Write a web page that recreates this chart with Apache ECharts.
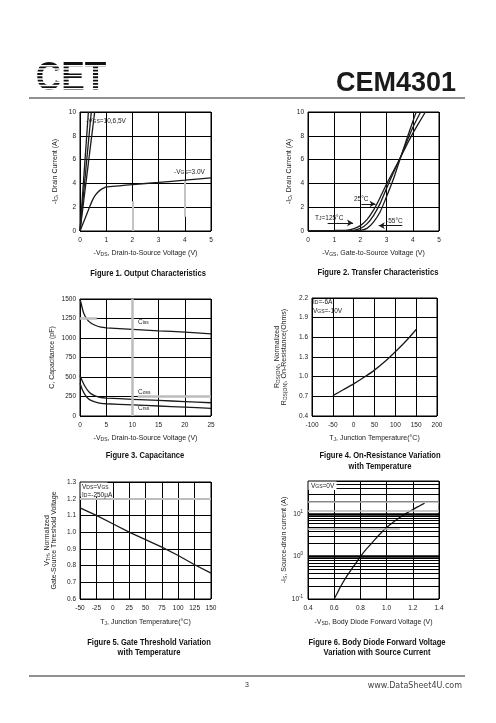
<!DOCTYPE html>
<html><head><meta charset="utf-8">
<script src="https://cdn.jsdelivr.net/npm/echarts@6/dist/echarts.min.js"></script>
<style>html,body{margin:0;padding:0;background:#fff}#c{width:496px;height:723px}</style>
</head><body><div id="c"></div><script>
// ---------------- DATA ----------------
// Figure 1: Output characteristics  [-VDS (V), -ID (A)]
const fig1Vgs10 = [[0,0],[0.32,10]];
const fig1Vgs6  = [[0,0],[0.43,10]];
const fig1Vgs5  = [[0,0],[0.56,10]];
const fig1Vgs3  = [[0,0],[0.1,0.55],[0.2,1.1],[0.3,1.65],[0.4,2.2],[0.5,2.7],[0.6,3.05],[0.7,3.3],[0.8,3.48],[0.9,3.6],[1,3.7],[1.5,3.8],[2,3.9],[3,4.08],[4,4.27],[5,4.47]];
const fig1XTicks = [0,1,2,3,4,5];
const fig1YTicks = [0,2,4,6,8,10];
// Figure 2: Transfer characteristics [-VGS (V), -ID (A)]
const fig2T125 = [[0,0.03],[1,0.04],[1.5,0.08],[1.75,0.2],[2,0.45],[2.25,0.95],[2.5,1.75],[2.75,2.8],[3,3.95],[3.25,5.0],[3.5,6.05],[3.75,7.15],[4,8.2],[4.25,9.15],[4.48,10]];
const fig2T25  = [[0,0.02],[1.5,0.02],[1.75,0.06],[2,0.22],[2.25,0.6],[2.5,1.3],[2.75,2.3],[3,3.6],[3.25,4.85],[3.5,6.05],[3.75,7.4],[4,8.7],[4.3,10]];
const fig2Tm55 = [[0,0.02],[1.75,0.02],[2,0.05],[2.25,0.22],[2.5,0.75],[2.75,1.6],[3,2.9],[3.25,4.3],[3.5,5.95],[3.75,7.6],[4,9.2],[4.13,10]];
const fig2XTicks = [0,1,2,3,4,5];
const fig2YTicks = [0,2,4,6,8,10];
// Figure 3: Capacitance [-VDS (V), C (pF)]
const fig3Ciss = [[0,1500],[0.3,1420],[0.6,1340],[1,1275],[1.5,1225],[2,1195],[3,1160],[4,1138],[5,1130],[10,1110],[15,1092],[20,1075],[25,1052]];
const fig3Coss = [[0,520],[0.5,440],[1,375],[1.5,325],[2,290],[3,255],[4,237],[5,230],[10,214],[15,200],[20,185],[25,170]];
const fig3Crss = [[0,420],[0.5,330],[1,268],[1.5,228],[2,203],[3,178],[4,163],[5,157],[10,143],[15,128],[20,113],[25,98]];
const fig3XTicks = [0,5,10,15,20,25];
const fig3YTicks = [0,250,500,750,1000,1250,1500];
// Figure 4: On-resistance vs temperature [TJ (°C), normalized RDS(ON)]
const fig4Rds = [[-50,0.71],[-25,0.8],[0,0.89],[25,0.99],[50,1.1],[75,1.23],[100,1.38],[125,1.54],[150,1.72]];
const fig4XTicks = [-100,-50,0,50,100,150,200];
const fig4YTicks = [0.4,0.7,1.0,1.3,1.6,1.9,2.2];
// Figure 5: Gate threshold vs temperature [TJ (°C), normalized VTH]
const fig5Vth = [[-50,1.145],[-25,1.1],[0,1.05],[25,1.0],[50,0.955],[75,0.91],[100,0.86],[125,0.805],[150,0.755]];
const fig5XTicks = [-50,-25,0,25,50,75,100,125,150];
const fig5YTicks = [0.6,0.7,0.8,0.9,1.0,1.1,1.2,1.3];
// Figure 6: Body diode forward voltage [-VSD (V), -IS (A)]
const fig6Is = [[0.6,0.1],[0.625,0.14],[0.65,0.2],[0.7,0.36],[0.75,0.6],[0.8,1.0],[0.85,1.55],[0.9,2.3],[0.95,3.4],[1.0,4.8],[1.05,6.4],[1.1,8.3],[1.15,10.4],[1.2,12.8],[1.25,15.5],[1.29,18]];
const fig6XTicks = [0.4,0.6,0.8,1.0,1.2,1.4];
const fig6YRange = [0.1,60];
const fig6YTicks = [0.1,1,10];

// ---------------- CHART ----------------
const FF = "'Liberation Sans', Arial, Helvetica, sans-serif";
const INK = '#1a1a1a';
const sub = {s:{fontSize:5,verticalAlign:'bottom',fontFamily:FF,color:'#222'}};
const grids = [
  {left:80,  top:112, width:131, height:119},
  {left:308, top:112, width:131, height:119},
  {left:80,  top:299, width:131, height:117},
  {left:312, top:298, width:125, height:118},
  {left:80,  top:482, width:131, height:117},
  {left:308, top:481, width:131, height:118}
].map(g=>Object.assign({show:true,borderColor:'#000',borderWidth:1,backgroundColor:'transparent',containLabel:false},g));

function step(t){return t[1]-t[0];}
function xAx(i,ticks,name,gap,fmt){
  return {type:'value',gridIndex:i,min:ticks[0],max:ticks[ticks.length-1],interval:step(ticks),
    axisLine:{show:false},axisTick:{show:false},
    axisLabel:{fontSize:6.5,color:'#222',margin:6,fontFamily:FF,formatter:fmt},
    splitLine:{show:true,lineStyle:{color:'#000',width:1}},
    name:name,nameLocation:'middle',nameGap:gap,
    nameTextStyle:{fontSize:7,color:'#222',fontFamily:FF,rich:sub}};
}
function yAx(i,ticks,name,gap,fmt){
  const a = xAx(i,ticks,name,gap,fmt);
  a.axisLabel.margin = 4;
  return a;
}
const f1 = v=>String(v);
const f1d = v=>v.toFixed(1);

const y4 = yAx(3,fig4YTicks,'R{s|DS(ON)}, Normalized\nR{s|DS(ON)}, On-Resistance(Ohms)',24,
   v=>{const k=(v-fig4YTicks[0])/step(fig4YTicks); return Math.abs(k-Math.round(k))<1e-6? v.toFixed(1):'';});
y4.interval = 0.1;
y4.splitLine.lineStyle.color = ['#000','rgba(0,0,0,0)','rgba(0,0,0,0)'];

const y6 = {type:'log',logBase:10,gridIndex:5,min:fig6YRange[0],max:fig6YRange[1],
  axisLine:{show:false},axisTick:{show:false},
  axisLabel:{fontSize:6.5,color:'#222',margin:5,fontFamily:FF,showMaxLabel:false,
    formatter:v=>{const e=Math.round(Math.log10(v)); return fig6YTicks.some(t=>Math.abs(t-v)<1e-9)?('10{p|'+e+'}'):'';},
    rich:{p:{fontSize:4.5,verticalAlign:'top',padding:[0,0,5,0],fontFamily:FF,color:'#222'}}},
  splitLine:{show:true,lineStyle:{color:'#000',width:1}},
  name:'-I{s|S}, Source-drain current (A)',nameLocation:'middle',nameGap:13,
  nameTextStyle:{fontSize:7,color:'#222',fontFamily:FF,rich:sub}};

// minor log grid lines for figure 6 (decoration only)
const fig6Minor = [];
[0.1,1,10].forEach(d=>{for(let m=2;m<=9;m++){const v=d*m; if(v<fig6YRange[1]) fig6Minor.push({yAxis:v});}});

function line(i,data,extra){
  return Object.assign({type:'line',xAxisIndex:i,yAxisIndex:i,data:data,symbol:'none',
    lineStyle:{color:INK,width:1.3},smooth:0.25,silent:true,animation:false},extra||{});
}
function ml(data,color,width){
  return {silent:true,symbol:'none',label:{show:false},animation:false,
    lineStyle:{color:color,width:width,type:'solid'},data:data};
}

const series = [
  line(0,fig1Vgs10,{smooth:false}),
  line(0,fig1Vgs6,{smooth:false}),
  line(0,fig1Vgs5,{smooth:false,
    markLine:ml([[{coord:[2,0]},{coord:[2,2.5]}],[{coord:[4,1.2]},{coord:[4,4.2]}]],'#c4c4c4',2)}),
  line(0,fig1Vgs3),
  line(1,fig2T125),
  line(1,fig2T25),
  line(1,fig2Tm55,{markLine:{silent:true,symbol:['none','arrow'],symbolSize:[5,6],label:{show:false},animation:false,
    lineStyle:{color:INK,width:1,type:'solid'},
    data:[[{coord:[2.04,2.27]},{coord:[2.58,2.27]}],[{coord:[0.75,0.68]},{coord:[1.72,0.68]}],[{coord:[3.6,0.45]},{coord:[2.7,0.45]}]]}}),
  line(2,fig3Ciss,{markLine:ml([{xAxis:10},[{coord:[0,1250]},{coord:[3.2,1250]}],[{coord:[11,250]},{coord:[25,250]}]],'#bdbdbd',2.5)}),
  line(2,fig3Coss),
  line(2,fig3Crss),
  line(3,fig4Rds),
  line(4,fig5Vth,{smooth:false,markLine:ml([{yAxis:1.2}],'#bdbdbd',2)}),
  line(5,fig6Is,{markLine:ml(fig6Minor,'#000',1)}),
  line(5,[],{markLine:ml([{yAxis:1},{yAxis:10}],'#000',2.5)}),
  line(5,[],{markLine:ml([{yAxis:12},{yAxis:20},[{coord:[0.4,4.6]},{coord:[1.1,4.6]}]],'#b5b5b5',1.5)})
];

function T(x,y,text,o){
  return {type:'text',x:x,y:y,z:100,silent:true,
    style:Object.assign({text:text,font:'6.5px '+FF,fill:'#222',align:'left',verticalAlign:'middle',rich:{s:{fontSize:5,verticalAlign:'bottom',fontFamily:FF,fill:'#222'}}},o||{})};
}
function TITLE(x,y,text){
  return {type:'text',x:x,y:y,z:100,silent:true,scaleX:0.8,
    style:{text:text,font:'bold 9.5px '+FF,fill:'#111',align:'center',verticalAlign:'middle'}};
}
const stripes = [];
for(let k=0;k<10;k++){stripes.push({type:'rect',z:101,silent:true,shape:{x:30,y:63+k*3.3+2.0,width:82,height:1.45},style:{fill:'#fff'}});}

const graphic = [
  // logo
  {type:'text',x:71,y:79,z:100,silent:true,scaleX:0.86,style:{text:'CET',font:'900 41px '+FF,fill:'#111',align:'center',verticalAlign:'middle'}},
  ...stripes,
  {type:'text',x:456,y:84,z:100,silent:true,style:{text:'CEM4301',font:'bold 27px '+FF,fill:'#1a1a1a',align:'right',verticalAlign:'middle'}},
  {type:'line',z:100,silent:true,shape:{x1:29,y1:98,x2:465,y2:98},style:{stroke:'#222',lineWidth:1}},
  {type:'line',z:100,silent:true,shape:{x1:29,y1:676,x2:465,y2:676},style:{stroke:'#222',lineWidth:1}},
  {type:'text',x:247,y:685,z:100,silent:true,style:{text:'3',font:'7px '+FF,fill:'#333',align:'center',verticalAlign:'middle'}},
  {type:'text',x:462,y:686,z:100,silent:true,style:{text:'www.DataSheet4U.com',font:'8px "DejaVu Sans", sans-serif',fill:'#444',align:'right',verticalAlign:'middle'}},
  // titles
  TITLE(148,273,'Figure 1. Output Characteristics'),
  TITLE(378,272,'Figure 2. Transfer Characteristics'),
  TITLE(145,455,'Figure 3. Capacitance'),
  TITLE(380,455,'Figure 4. On-Resistance Variation'),
  TITLE(380,466,'with Temperature'),
  TITLE(149,642,'Figure 5. Gate Threshold Variation'),
  TITLE(149,652,'with Temperature'),
  TITLE(377,642,'Figure 6. Body Diode Forward Voltage'),
  TITLE(377,652,'Variation with Source Current'),
  // annotations fig1
  T(86,121,'-V{s|GS}=10,6,5V'),
  T(174,172,'-V{s|GS}=3.0V'),
  // fig2
  T(354,199,'25°C'),
  T(315,218,'T{s|J}=125°C'),
  T(386,221,'-55°C'),
  // fig3
  T(138,322,'C{s|iss}'),
  T(138,392,'C{s|oss}'),
  T(138,408,'C{s|rss}'),
  // fig4
  T(313,302,'I{s|D}=-6A'),
  T(313,311,'V{s|GS}=-10V'),
  // fig5
  {type:'rect',z:99,silent:true,shape:{x:80.5,y:482.5,width:27,height:14},style:{fill:'#fff'}},
  T(82,487,'V{s|DS}=V{s|GS}'),
  T(82,495,'I{s|D}=-250μA'),
  // fig6
  {type:'rect',z:99,silent:true,shape:{x:308.5,y:481.5,width:28,height:8.5},style:{fill:'#fff'}},
  T(311,486,'V{s|GS}=0V')
];

const option = {
  backgroundColor:'#fff',animation:false,
  grid:grids,
  xAxis:[
    xAx(0,fig1XTicks,'-V{s|DS}, Drain-to-Source Voltage (V)',19,f1),
    xAx(1,fig2XTicks,'-V{s|GS}, Gate-to-Source Voltage (V)',19,f1),
    xAx(2,fig3XTicks,'-V{s|DS}, Drain-to-Source Voltage (V)',19,f1),
    xAx(3,fig4XTicks,'T{s|J}, Junction Temperature(°C)',19,f1),
    xAx(4,fig5XTicks,'T{s|J}, Junction Temperature(°C)',20,f1),
    xAx(5,fig6XTicks,'-V{s|SD}, Body Diode Forward Voltage (V)',20,f1d)
  ],
  yAxis:[
    yAx(0,fig1YTicks,'-I{s|D}, Drain Current (A)',21,f1),
    yAx(1,fig2YTicks,'-I{s|D}, Drain Current (A)',14,f1),
    yAx(2,fig3YTicks,'C, Capacitance (pF)',24,f1),
    y4,
    yAx(4,fig5YTicks,'V{s|TH}, Normalized\nGate-Source Threshold Voltage',22,f1d),
    y6
  ],
  series:series,
  graphic:graphic
};
const chart = echarts.init(document.getElementById('c'),null,{renderer:'canvas'});
chart.setOption(option);
</script></body></html>
